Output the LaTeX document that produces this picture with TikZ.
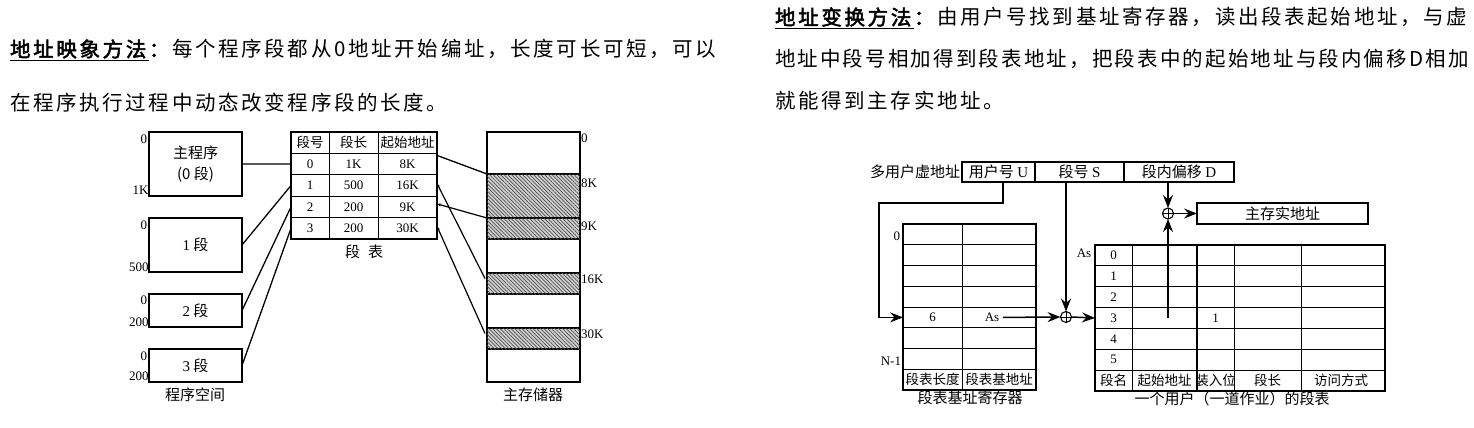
\documentclass[tikz,border=0pt]{standalone}
\usepackage{fontspec}
\setmainfont{Liberation Serif}
\newfontfamily\cjk[AutoFakeBold=2]{Noto Sans CJK SC}
\newfontfamily\cjkpara[LetterSpace=13,AutoFakeBold=2.5]{Noto Sans CJK SC}
\newfontfamily\cjkparb[LetterSpace=10.5,AutoFakeBold=2.5]{Noto Sans CJK SC}
\usetikzlibrary{patterns,patterns.meta,arrows.meta,calc}
\begin{document}
\begin{tikzpicture}[x=1pt,y=-1pt,
  every node/.style={inner sep=0pt,outer sep=0pt},
  ln/.style={line width=1.3pt},
  thinln/.style={line width=0.8pt},
  arr/.style={line width=1.5pt,-{Stealth[length=13pt,width=10pt,inset=4.5pt]}},
  tinytip/.style={line width=1.2pt,{Stealth[length=4pt,width=3pt]}-},
  pbox/.style={draw,line width=1.4pt,minimum width=93pt},
  hatch/.style={draw,line width=1.4pt,fill=black!18,
    postaction={pattern={Lines[angle=-45,distance=2.6pt,line width=0.7pt]},pattern color=black!70},
    minimum width=93pt,minimum height=21pt},
  trow/.style={draw,line width=0.9pt,minimum width=146pt,minimum height=21.4pt},
  rrow/.style={minimum width=133pt,minimum height=20.75pt},
  srow/.style={minimum width=290pt,minimum height=20.86pt},
  op/.style={circle,draw,line width=1.1pt,minimum size=11pt,
    path picture={\draw[line width=0.9pt] (path picture bounding box.north) -- (path picture bounding box.south)
      (path picture bounding box.west) -- (path picture bounding box.east);}},
  lf/.style={font=\fontsize{13}{15}\selectfont},
  zf/.style={font=\cjk\fontsize{15}{17}\selectfont},
  zs/.style={font=\cjk\fontsize{13.5}{15}\selectfont},
  para/.style={anchor=west,font=\cjkpara\fontsize{20.5}{24}\selectfont},
  parb/.style={anchor=west,font=\cjkparb\fontsize{20.5}{24}\selectfont},
]
\useasboundingbox (0,0) rectangle (1474,428);
\fill[white] (0,0) rectangle (1474,428);

% ---------- paragraphs ----------
\node[para] (l1) at (10,50) {\underline{\textbf{地址映象方法}}\textbf{：}每个程序段都从0地址开始编址，长度可长可短，可以};
\node[para] (l2) at (10,103) {在程序执行过程中动态改变程序段的长度。};
\node[para] (r1t) at (775,18) {\underline{\textbf{地址变换方法}}\textbf{：}由用户号找到基址寄存器，读出段表起始地址，与虚};
\node[parb] (r2t) at (775,59) {地址中段号相加得到段表地址，把段表中的起始地址与段内偏移D相加};
\node[para] (r3t) at (775,101) {就能得到主存实地址。};

% ---------- left: program space ----------
\node[pbox,minimum height=64pt,align=center,zf] (p0) at (195.5,164) {主程序\\[4pt](0 段)};
\node[pbox,minimum height=54pt,zf] (p1) at (195.5,245) {{\rmfamily 1} 段};
\node[pbox,minimum height=33pt,zf] (p2) at (195.5,310.5) {{\rmfamily 2} 段};
\node[pbox,minimum height=33pt,zf] (p3) at (195.5,365.5) {{\rmfamily 3} 段};
\node[lf,anchor=east] (p0a) at (147,139) {0};
\node[lf,anchor=east] (p0b) at (148.5,190) {1K};
\node[lf,anchor=east] (p1a) at (147,225) {0};
\node[lf,anchor=east] (p1b) at (148.5,267) {500};
\node[lf,anchor=east] (p2a) at (147,300) {0};
\node[lf,anchor=east] (p2b) at (148.5,322) {200};
\node[lf,anchor=east] (p3a) at (147,356) {0};
\node[lf,anchor=east] (p3b) at (148.5,376) {200};
\node[zf] (pspace) at (195,395) {程序空间};

% ---------- left: segment table ----------
\node[trow] (th) at (364,142.7) {};
\node[trow] (r0) at (364,164.1) {};
\node[trow] (r1) at (364,185.5) {};
\node[trow] (r2) at (364,206.9) {};
\node[trow] (r3) at (364,228.3) {};
\draw[line width=1.2pt] (th.north west) rectangle (r3.south east);
\draw[thinln] (329,132) -- (329,239) (378,132) -- (378,239);
\node[zs] at (310,142.7) {段号};
\node[zs] at (353.5,142.7) {段长};
\node[zs] at (407.5,142.7) {起始地址};
\node[lf] at (310,164.1) {0};   \node[lf] at (353.5,164.1) {1K};  \node[lf] at (407.5,164.1) {8K};
\node[lf] at (310,185.5) {1};   \node[lf] at (353.5,185.5) {500}; \node[lf] at (407.5,185.5) {16K};
\node[lf] at (310,206.9) {2};   \node[lf] at (353.5,206.9) {200}; \node[lf] at (407.5,206.9) {9K};
\node[lf] at (310,228.3) {3};   \node[lf] at (353.5,228.3) {200}; \node[lf] at (407.5,228.3) {30K};
\node[zf] (ttitle) at (364,252) {段\hspace{8pt}表};

\draw[ln] (p0.east) -- (r0.west);
\draw[ln] (p1.east) -- (r1.west);
\draw[ln] (p2.east) -- (r2.west);
\draw[ln] (p3.east) -- (r3.west);

% ---------- left: main memory ----------
\node[draw,line width=1.4pt,minimum width=93pt,minimum height=250pt] (mem) at (533.5,257) {};
\node[hatch,minimum height=44pt] (b8) at (533.5,196) {};
\node[hatch] (b9) at (533.5,228.5) {};
\node[hatch] (b16) at (533.5,283.5) {};
\node[hatch] (b30) at (533.5,338.5) {};
\node[lf,anchor=west] at (581,138) {0};
\node[lf,anchor=west] at (581,183) {8K};
\node[lf,anchor=west] at (581,226) {9K};
\node[lf,anchor=west] at (581,279) {16K};
\node[lf,anchor=west] at (581,334) {30K};
\node[zf] (mtitle) at (533,395) {主存储器};

\draw[ln] ($(r0.north east)+(0,2)$) -- (b8.north west);
\draw[tinytip] ($(r1.east)+(0,-2)$) -- ($(b16.west)+(-2,-5)$);
\draw[tinytip] ($(r2.east)+(0,-3)$) -- (b9.north west);
\draw[tinytip] ($(r3.east)+(0,-2)$) -- ($(b30.west)+(-2,-5)$);

% ---------- right: virtual address ----------
\node[zf,anchor=east] (vlab) at (960,172) {多用户虚地址};
\node[draw,ln,minimum width=73pt,minimum height=20pt,zf] (vu) at (998.5,172) {用户号 {\rmfamily U}};
\node[draw,ln,minimum width=89pt,minimum height=20pt,zf] (vs) at (1079.5,172) {段号 {\rmfamily S}};
\node[draw,ln,minimum width=110pt,minimum height=20pt,zf] (vd) at (1179,172) {段内偏移 {\rmfamily D}};

% ---------- right: base register ----------
\foreach \i/\yy in {0/234.4,1/255.1,2/275.9,3/296.6,4/317.4,5/338.1,6/358.9,h/379.6}
  \node[rrow] (reg\i) at (969.5,\yy) {};
\foreach \yy in {244.75,265.5,286.25,307,327.75,348.5,369.25}
  \draw[thinln] (903,\yy) -- (1036,\yy);
\draw[thinln] (962,224) -- (962,390);
\draw[line width=1.8pt] (903,224) rectangle (1036,390);
\node[lf,anchor=east] at (900,236) {0};
\node[lf,anchor=east] at (901,361) {N-1};
\node[lf] at (932.5,317.4) {6};
\node[lf] (asn) at (992,317.4) {As};
\node[zs] at (932.5,379.6) {段表长度};
\node[zs] at (999,379.6) {段表基地址};
\node[zf] (rtitle) at (970,398) {段表基址寄存器};

\coordinate (uport) at ($(vu.south)+(4.5,0)$);
\coordinate (ubend) at (879,203);
\draw[arr] (uport) -- (uport |- ubend) -- (ubend) -- (ubend |- reg4.west) -- (reg4.west);

% ---------- right: segment table ----------
\foreach \i/\yy in {0/255.4,1/276.3,2/297.2,3/318.0,4/338.9,5/359.7,h/380.6}
  \node[srow] (seg\i) at (1240,\yy) {};
\foreach \yy in {265.86,286.71,307.57,328.43,349.29,370.14}
  \draw[thinln] (1095,\yy) -- (1385,\yy);
\draw[thinln] (1132,245) -- (1132,391) (1234,245) -- (1234,391) (1301,245) -- (1301,391);
\draw[line width=1.6pt] (1197,245) -- (1197,391);
\draw[line width=2pt] (1095,245) rectangle (1385,391);
\node[lf] at (1084,253) {As};
\foreach \i/\yy in {0/255.4,1/276.3,2/297.2,3/318.0,4/338.9,5/359.7}
  \node[lf] at (1113.5,\yy) {\i};
\node[lf] at (1215.5,318) {1};
\node[zs] at (1113.5,380.6) {段名};
\node[zs] at (1164.5,380.6) {起始地址};
\node[zs] at (1215.5,380.6) {装入位};
\node[zs] at (1267.5,380.6) {段长};
\node[zs] at (1341,380.6) {访问方式};
\node[zf] (stitle) at (1232,399) {一个用户（一道作业）的段表};

% ---------- adders ----------
\node[op] (op1) at (1066,317) {};
\draw[arr] ($(asn.east)+(4,0)$) -- (op1.west);
\draw[arr] (op1 |- vs.south) -- (op1.north);
\draw[arr] (op1.east) -- (seg3.west);

\node[draw,ln,minimum width=171pt,minimum height=21pt,zf] (pa) at (1282.5,213.5) {主存实地址};
\node[op] (op2) at (1168,213.5) {};
\draw[arr] (op2 |- vd.south) -- (op2.north);
\draw[arr] (op2.east) -- (pa.west);
\draw[arr] (op2 |- seg3.center) -- (op2.south);
\end{tikzpicture}
\end{document}
